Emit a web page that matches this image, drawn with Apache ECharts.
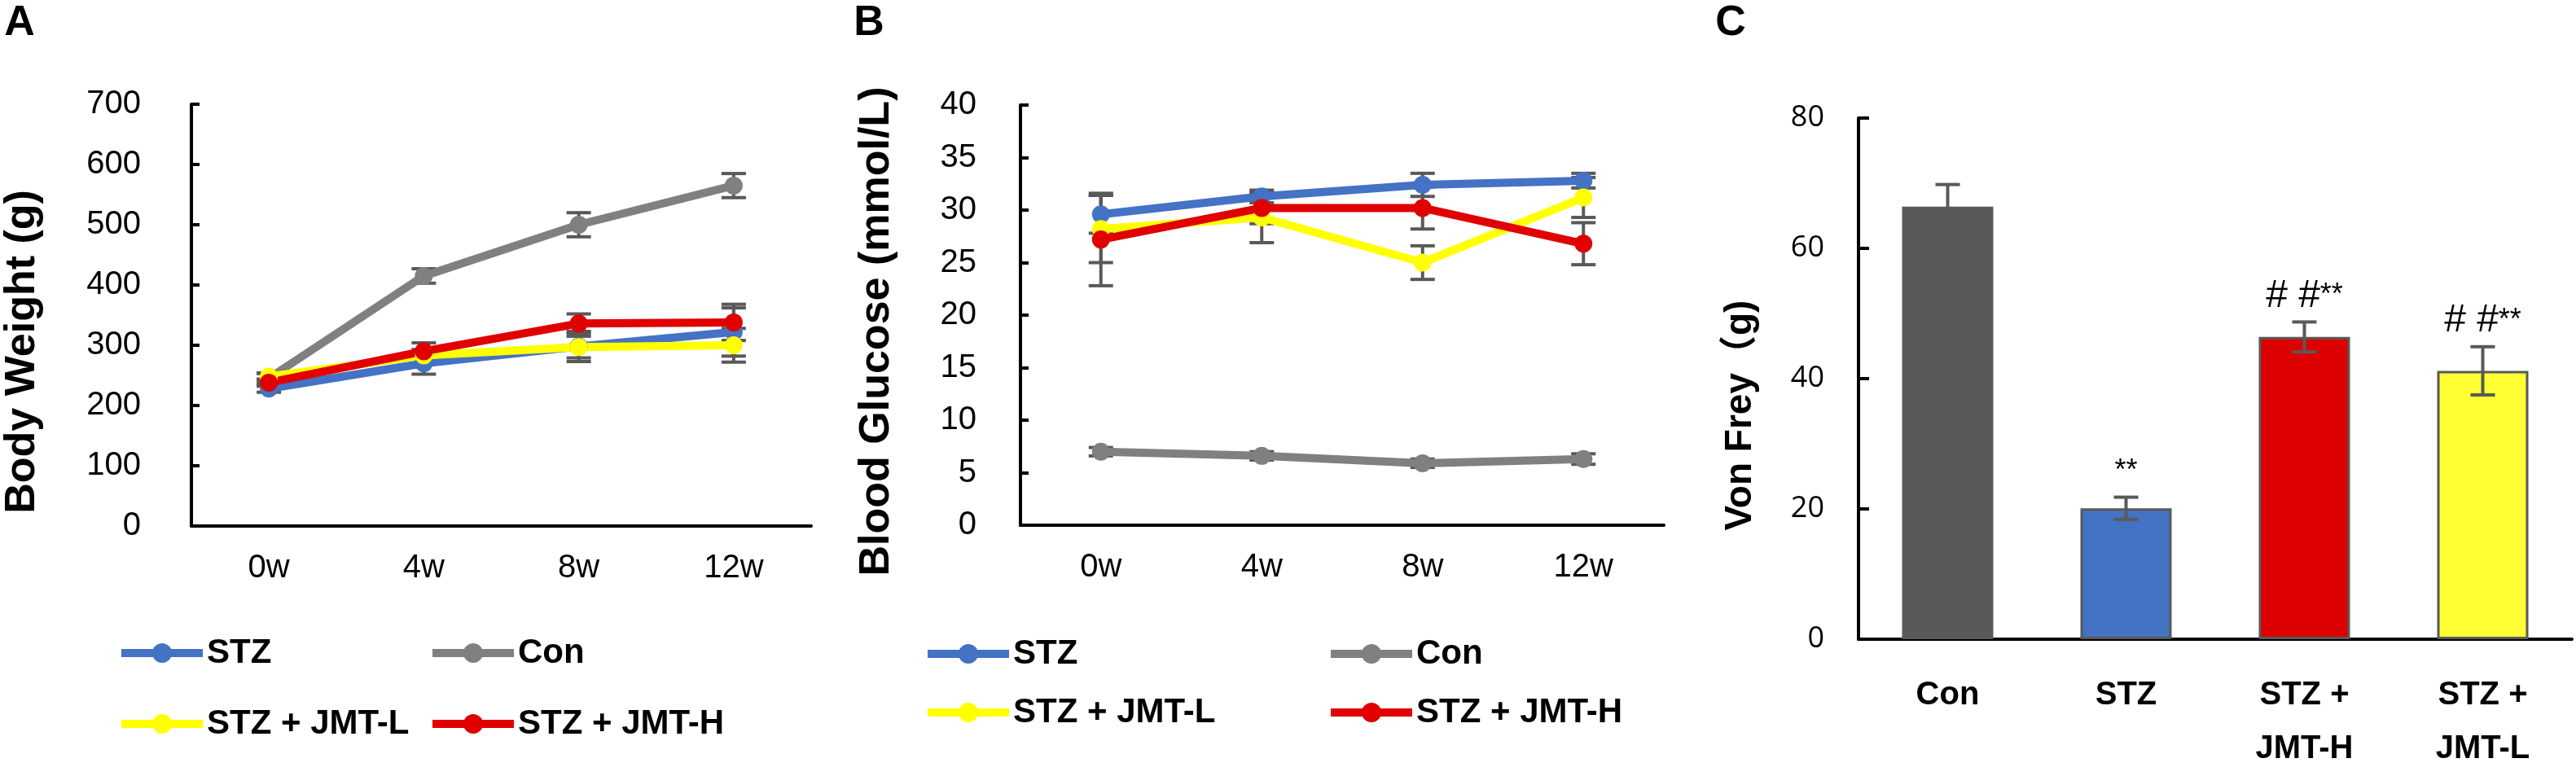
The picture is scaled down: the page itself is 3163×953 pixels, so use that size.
<!DOCTYPE html>
<html>
<head>
<meta charset="utf-8">
<script src="https://cdn.jsdelivr.net/npm/echarts@6/dist/echarts.min.js"></script>
<style>
  html, body { margin: 0; padding: 0; background: #fff; }
  #main { width: 3163px; height: 953px; }
</style>
</head>
<body>
<div id="main"></div>
<script>
// ---- data ----
var weeks = ['0w', '4w', '8w', '12w'];

// A: body weight (g)
var bwStz = [228, 270, 298, 322];
var bwStzSd = [6, 18, 25, 40];
var bwCon = [245, 415, 500, 565];
var bwConSd = [8, 12, 20, 20];
var bwJmtL = [248, 283, 297, 300];
var bwJmtLSd = [6, 10, 18, 28];
var bwJmtH = [238, 290, 336, 338];
var bwJmtHSd = [6, 14, 16, 30];

// B: blood glucose (mmol/L)
var bgStz = [29.6, 31.3, 32.4, 32.8];
var bgStzSd = [1.8, 0.6, 1.1, 0.7];
var bgCon = [7.0, 6.6, 5.9, 6.3];
var bgConSd = [0.4, 0.4, 0.4, 0.5];
var bgJmtL = [28.2, 29.3, 25.0, 31.2];
var bgJmtLSd = [3.2, 2.4, 1.6, 1.9];
var bgJmtH = [27.2, 30.2, 30.2, 26.8];
var bgJmtHSd = [4.4, 1.5, 2.0, 2.0];

// C: von frey (g)
var vfGroups = ['Con', 'STZ', 'STZ +\nJMT-H', 'STZ +\nJMT-L'];
var vfMean = [66.4, 20.1, 46.4, 41.2];
var vfSd = [3.4, 1.7, 2.3, 3.7];
var vfHash = ['', '', '# #', '# #'];
var vfStar = ['', '**', '**', '**'];

// ---- styles ----
var BLUE = '#4472C4', GREY = '#808080', YELLOW = '#FFFF00', RED = '#E00000';
var ERR = '#595959';
var barColors = ['#595959', '#4472C4', '#DD0000', '#FFFF33'];
var SANS = 'Liberation Sans, Arial, sans-serif';

var chart = echarts.init(document.getElementById('main'));

function errData(mean, sd) {
  return mean.map(function (m, i) { return [i, m - sd[i], m + sd[i]]; });
}

function errRender(params, api) {
  var x = api.value(0);
  var lo = api.coord([x, api.value(1)]);
  var hi = api.coord([x, api.value(2)]);
  var w = 15;
  var st = { stroke: ERR, lineWidth: 4 };
  return {
    type: 'group',
    children: [
      { type: 'line', shape: { x1: lo[0], y1: lo[1], x2: hi[0], y2: hi[1] }, style: st },
      { type: 'line', shape: { x1: lo[0] - w, y1: lo[1], x2: lo[0] + w, y2: lo[1] }, style: st },
      { type: 'line', shape: { x1: hi[0] - w, y1: hi[1], x2: hi[0] + w, y2: hi[1] }, style: st }
    ]
  };
}

function errSeries(idx, mean, sd) {
  return {
    type: 'custom', xAxisIndex: idx, yAxisIndex: idx, z: 2,
    renderItem: errRender, encode: { x: 0, y: [1, 2] },
    data: errData(mean, sd), silent: true
  };
}

function lineSeries(idx, name, color, values) {
  return {
    type: 'line', name: name, xAxisIndex: idx, yAxisIndex: idx, z: 3,
    data: values, symbol: 'circle', symbolSize: 22,
    lineStyle: { color: color, width: 10 },
    itemStyle: { color: color },
    emphasis: { disabled: true }
  };
}

function legendItem(name, left, top) {
  return {
    data: [name], left: left, top: top, padding: 0,
    itemWidth: 100, itemHeight: 30, selectedMode: false,
    lineStyle: { width: 10 },
    textStyle: { fontSize: 42, fontWeight: 'bold', fontFamily: SANS, color: '#000', lineHeight: 48 }
  };
}

var axisLine = { show: true, lineStyle: { color: '#000', width: 4 } };

var catAxis = function (idx, labels) {
  return {
    type: 'category', gridIndex: idx, data: labels,
    axisLine: axisLine, axisTick: { show: false },
    axisLabel: { fontSize: 40, fontFamily: SANS, color: '#000', margin: 32 }
  };
};

var option = {
  backgroundColor: '#fff',
  animation: false,
  grid: [
    { left: 235, top: 128, width: 761, height: 518 },
    { left: 1253, top: 129, width: 790, height: 516 },
    { left: 2282, top: 145, width: 876, height: 678 }
  ],
  xAxis: [
    catAxis(0, weeks),
    catAxis(1, weeks),
    {
      type: 'category', gridIndex: 2, data: vfGroups,
      axisLine: axisLine, axisTick: { show: false },
      axisLabel: { fontSize: 40, fontWeight: 'bold', fontFamily: SANS, color: '#000', margin: 36, lineHeight: 66, interval: 0 }
    }
  ],
  yAxis: [
    {
      type: 'value', gridIndex: 0, min: 0, max: 700, interval: 100,
      axisLine: axisLine, splitLine: { show: false },
      axisTick: { show: true, inside: true, length: 10, lineStyle: { color: '#000', width: 4 } },
      axisLabel: { fontSize: 40, fontFamily: SANS, color: '#000', margin: 62 }
    },
    {
      type: 'value', gridIndex: 1, min: 0, max: 40, interval: 5,
      axisLine: axisLine, splitLine: { show: false },
      axisTick: { show: true, inside: true, length: 10, lineStyle: { color: '#000', width: 4 } },
      axisLabel: { fontSize: 40, fontFamily: SANS, color: '#000', margin: 54 }
    },
    {
      type: 'value', gridIndex: 2, min: 0, max: 80, interval: 20,
      axisLine: axisLine, splitLine: { show: false },
      axisTick: { show: true, inside: true, length: 13, lineStyle: { color: '#000', width: 4 } },
      axisLabel: { fontSize: 36, fontFamily: 'Open Sans, sans-serif', color: '#000', margin: 42 }
    }
  ],
  legend: [
    legendItem('STZ', 144, 778),
    legendItem('Con', 526, 778),
    legendItem('STZ + JMT-L', 144, 865),
    legendItem('STZ + JMT-H', 526, 865),
    legendItem('STZ', 1134, 779),
    legendItem('Con', 1629, 779),
    legendItem('STZ + JMT-L', 1134, 851),
    legendItem('STZ + JMT-H', 1629, 851)
  ],
  graphic: [
    { type: 'text', x: 24, y: 29, style: { text: 'A', fontSize: 52, fontWeight: 'bold', fontFamily: SANS, fill: '#000', align: 'center', verticalAlign: 'middle' } },
    { type: 'text', x: 1067, y: 29, style: { text: 'B', fontSize: 52, fontWeight: 'bold', fontFamily: SANS, fill: '#000', align: 'center', verticalAlign: 'middle' } },
    { type: 'text', x: 2125, y: 29, style: { text: 'C', fontSize: 52, fontWeight: 'bold', fontFamily: SANS, fill: '#000', align: 'center', verticalAlign: 'middle' } },
    { type: 'text', x: 28, y: 432, rotation: Math.PI / 2, style: { text: 'Body Weight (g)', fontSize: 52, fontWeight: 'bold', fontFamily: SANS, fill: '#000', align: 'center', verticalAlign: 'middle' } },
    { type: 'text', x: 1077, y: 407, rotation: Math.PI / 2, style: { text: 'Blood Glucose (mmol/L)', fontSize: 52, fontWeight: 'bold', fontFamily: SANS, fill: '#000', align: 'center', verticalAlign: 'middle' } },
    { type: 'text', x: 2137, y: 510, rotation: Math.PI / 2, style: { text: 'Von Frey（g)', fontSize: 46, fontWeight: 'bold', fontFamily: 'Liberation Sans, Noto Sans CJK SC, sans-serif', fill: '#000', align: 'center', verticalAlign: 'middle' } }
  ],
  series: [
    // A
    errSeries(0, bwStz, bwStzSd),
    errSeries(0, bwCon, bwConSd),
    errSeries(0, bwJmtL, bwJmtLSd),
    errSeries(0, bwJmtH, bwJmtHSd),
    lineSeries(0, 'STZ', BLUE, bwStz),
    lineSeries(0, 'Con', GREY, bwCon),
    lineSeries(0, 'STZ + JMT-L', YELLOW, bwJmtL),
    lineSeries(0, 'STZ + JMT-H', RED, bwJmtH),
    // B
    errSeries(1, bgStz, bgStzSd),
    errSeries(1, bgCon, bgConSd),
    errSeries(1, bgJmtL, bgJmtLSd),
    errSeries(1, bgJmtH, bgJmtHSd),
    lineSeries(1, 'STZ', BLUE, bgStz),
    lineSeries(1, 'Con', GREY, bgCon),
    lineSeries(1, 'STZ + JMT-L', YELLOW, bgJmtL),
    lineSeries(1, 'STZ + JMT-H', RED, bgJmtH),
    // C
    {
      type: 'bar', xAxisIndex: 2, yAxisIndex: 2, barWidth: 112,
      data: vfMean.map(function (v, i) {
        return {
          value: v,
          itemStyle: { color: barColors[i], borderColor: '#595959', borderWidth: i === 0 ? 0 : 3 }
        };
      }),
      emphasis: { disabled: true }
    },
    {
      type: 'custom', xAxisIndex: 2, yAxisIndex: 2, z: 3,
      renderItem: errRender, encode: { x: 0, y: [1, 2] },
      data: errData(vfMean, vfSd), silent: true
    },
    {
      type: 'custom', xAxisIndex: 2, yAxisIndex: 2, z: 4,
      encode: { x: 0, y: 1 },
      data: vfMean.map(function (m, i) { return [i, m + vfSd[i]]; }),
      renderItem: function (params, api) {
        var i = api.value(0);
        var p = api.coord([i, api.value(1)]);
        return {
          type: 'text', x: p[0], y: p[1] - 32,
          style: {
            text: '{h|' + vfHash[i] + '}{s|' + vfStar[i] + '}',
            align: 'center', verticalAlign: 'middle', fill: '#000',
            rich: {
              h: { fontSize: 48, fontFamily: SANS, fill: '#000' },
              s: { fontSize: 36, fontFamily: SANS, fill: '#000' }
            }
          }
        };
      },
      silent: true
    }
  ]
};

chart.setOption(option);
</script>
</body>
</html>
